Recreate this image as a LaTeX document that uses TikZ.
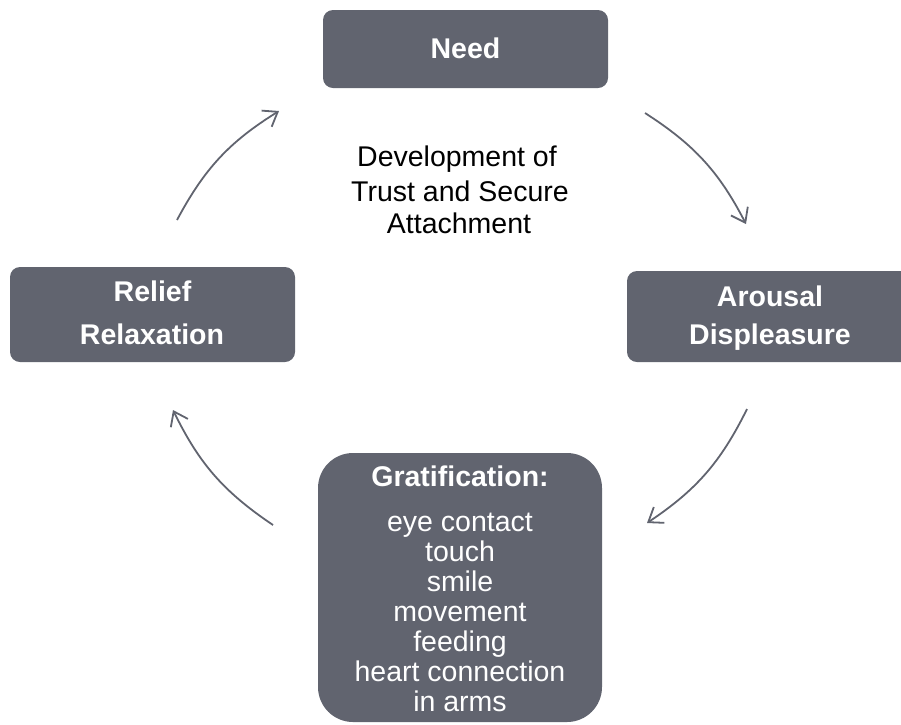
\documentclass[tikz,border=0pt]{standalone}
\usepackage{fontspec}
\setmainfont{Liberation Sans}
\usetikzlibrary{arrows.meta}
\definecolor{boxgray}{HTML}{61646F}
\begin{document}
\begin{tikzpicture}[x=1pt,y=-1pt,
  box/.style={fill=boxgray, draw=none, minimum width=285pt, inner sep=0pt},
  btxt/.style={text=white, font=\fontsize{28.5}{30}\selectfont\bfseries, inner sep=0pt, anchor=base},
  wtxt/.style={text=white, font=\fontsize{28.5}{30}\selectfont, inner sep=0pt, anchor=base},
  ktxt/.style={text=black, font=\fontsize{28.5}{30}\selectfont, inner sep=0pt, anchor=base},
  cyc/.style={draw=boxgray, line width=1.8pt, -{Straight Barb[length=13pt,width=19pt]}, bend left=15}
]
\useasboundingbox (0,0) rectangle (901,724);
\clip (0,0) rectangle (901,724);

% boxes
\node[box, rounded corners=10pt, minimum height=78pt] (need) at (465.5,49) {};
\node[box, rounded corners=10pt, minimum height=91pt] (arousal) at (769.5,316.5) {};
\node[box, rounded corners=10pt, minimum height=95pt] (relief) at (152.5,314.5) {};
\node[box, rounded corners=35pt, minimum width=284pt, minimum height=269pt] (grat) at (460,587.5) {};

% box texts
\node[btxt] (needT) at (465.5,58.3) {Need};
\node[btxt] (arT1) at (770,306.7) {Arousal};
\node[btxt] (arT2) at (770,344.3) {Displeasure};
\node[btxt] (reT1) at (152.5,301.7) {Relief};
\node[btxt] (reT2) at (152,344.3) {Relaxation};
\node[btxt] (grT0) at (460,486.7) {Gratification:};
\node[wtxt] (grT1) at (460,531.7) {eye contact};
\node[wtxt] (grT2) at (460,561.7) {touch};
\node[wtxt] (grT3) at (460,591.7) {smile};
\node[wtxt] (grT4) at (460,621.7) {movement};
\node[wtxt] (grT5) at (460,651.7) {feeding};
\node[wtxt] (grT6) at (460,681.7) {heart connection};
\node[wtxt] (grT7) at (460,711.7) {in arms};

% centre text
\node[ktxt] (c1) at (457,166) {Development of};
\node[ktxt] (c2) at (460,201.7) {Trust and Secure};
\node[ktxt] (c3) at (459,233) {Attachment};

% arrow ends
\coordinate (a1s) at (645,113);
\coordinate (a1e) at (746,224);
\coordinate (a2s) at (747,409);
\coordinate (a2e) at (647,523);
\coordinate (a3s) at (273,525);
\coordinate (a3e) at (173,410);
\coordinate (a4s) at (177,220);
\coordinate (a4e) at (279,111);

\draw[cyc] (a1s) to (a1e);
\draw[cyc] (a2s) to (a2e);
\draw[cyc] (a3s) to (a3e);
\draw[cyc] (a4s) to (a4e);
\end{tikzpicture}
\end{document}
